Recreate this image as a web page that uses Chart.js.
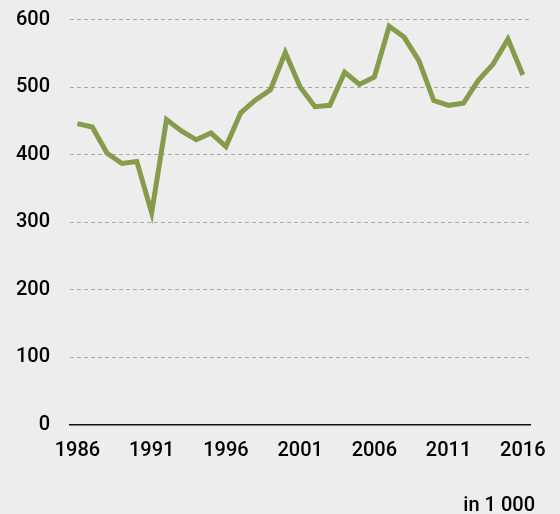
<!DOCTYPE html>
<html>
<head>
<meta charset="utf-8">
<script src="https://cdn.jsdelivr.net/npm/chart.js@4"></script>
<style>
  html, body { margin:0; padding:0; background:#ecedec; }
  #wrap { position:relative; width:560px; height:514px; }
  #unit { position:absolute; right:25px; top:492px; font:500 20px Roboto, "Liberation Sans", sans-serif; color:#000; }
</style>
</head>
<body>
<div id="wrap">
  <canvas id="chart" width="560" height="514"></canvas>
  <div id="unit">in 1 000</div>
</div>
<script>
/* données (milliers) */
const years = [1986,1987,1988,1989,1990,1991,1992,1993,1994,1995,1996,1997,1998,1999,2000,
               2001,2002,2003,2004,2005,2006,2007,2008,2009,2010,2011,2012,2013,2014,2015,2016];
const values = [446,441,402,387,390,314,452,435,422,432,412,462,481,496,551,
                500,471,473,522,504,515,590,574,539,480,473,476,510,534,571,518];
const yTicks = [0,100,200,300,400,500,600];

const FONT = { family: 'Roboto, "Liberation Sans", sans-serif', size: 20, weight: 500 };

new Chart(document.getElementById("chart"), {
  type: "line",
  data: {
    labels: years.map(String),
    datasets: [{
      data: values,
      borderColor: "#869b4c",
      borderWidth: 5,
      pointRadius: 0,
      tension: 0,
      borderJoinStyle: "miter"
    }]
  },
  options: {
    responsive: false,
    animation: false,
    layout: { padding: { top: 19.5, right: 27, left: 0, bottom: 0 } },
    plugins: { legend: { display: false }, tooltip: { enabled: false } },
    scales: {
      x: {
        type: "category",
        offset: true,
        grid: { display: false, drawTicks: false },
        border: { display: true, color: "#111", width: 1.5 },
        ticks: {
          autoSkip: false, maxRotation: 0, padding: 14, color: "#000", font: FONT,
          callback: (v, i) => (i % 5 === 0 ? years[i] : "")
        },
        afterFit: (s) => { s.height = 89; }
      },
      y: {
        min: 0, max: 600,
        afterBuildTicks: (s) => { s.ticks = yTicks.map(v => ({ value: v })); },
        grid: {
          drawTicks: false,
          color: (c) => (c.tick && c.tick.value === 0 ? "rgba(0,0,0,0)" : "#aaaaaa"),
          lineWidth: 1
        },
        border: { display: false, dash: [4, 3] },
        ticks: { padding: 20, color: "#000", font: FONT },
        afterFit: (s) => { s.width = 70; s.paddingTop = 0; s.paddingBottom = 0; }
      }
    }
  }
});
</script>
</body>
</html>
